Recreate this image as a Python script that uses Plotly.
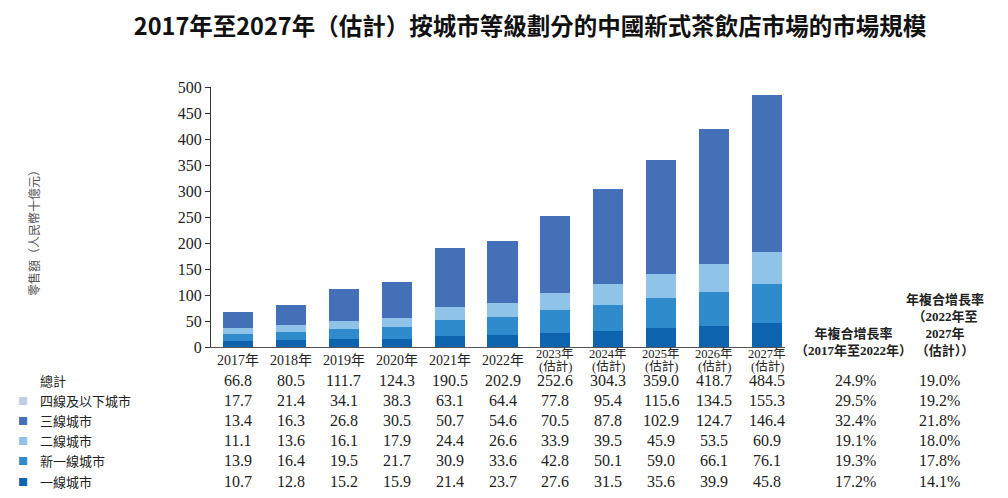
import plotly.graph_objects as go

years = ["2017年", "2018年", "2019年", "2020年", "2021年", "2022年",
         "2023年", "2024年", "2025年", "2026年", "2027年"]
est_flag = [False, False, False, False, False, False, True, True, True, True, True]
est_label = "(估計)"
total = [66.8, 80.5, 111.7, 124.3, 190.5, 202.9, 252.6, 304.3, 359.0, 418.7, 484.5]
tier4 = [17.7, 21.4, 34.1, 38.3, 63.1, 64.4, 77.8, 95.4, 115.6, 134.5, 155.3]
tier3 = [13.4, 16.3, 26.8, 30.5, 50.7, 54.6, 70.5, 87.8, 102.9, 124.7, 146.4]
tier2 = [11.1, 13.6, 16.1, 17.9, 24.4, 26.6, 33.9, 39.5, 45.9, 53.5, 60.9]
newtier1 = [13.9, 16.4, 19.5, 21.7, 30.9, 33.6, 42.8, 50.1, 59.0, 66.1, 76.1]
tier1 = [10.7, 12.8, 15.2, 15.9, 21.4, 23.7, 27.6, 31.5, 35.6, 39.9, 45.8]
cagr_1722 = ["24.9%", "29.5%", "32.4%", "19.1%", "19.3%", "17.2%"]
cagr_2227 = ["19.0%", "19.2%", "21.8%", "18.0%", "17.8%", "14.1%"]
row_names = ["總計", "四線及以下城市", "三線城市", "二線城市", "新一線城市", "一線城市"]

bar_colors = {"一線城市": "#0E63AE", "新一線城市": "#2F8BCB", "二線城市": "#90C3E8",
              "三線城市": "#4470B8", "四線及以下城市": "#4470B8"}
legend_colors = [None, "#C0CDE4", "#4470B8", "#90C3E8", "#2F8BCB", "#0E63AE"]

serif = "Liberation Serif, Times New Roman, serif"
cjk = "Noto Sans CJK TC, Noto Sans CJK SC, sans-serif"
mixed = serif + ", " + cjk
txt = "#222222"

# page body has an 8px margin; figure is sized so it fills the window
OFF = 8
W, H = 1008 - OFF, 498 - OFF
PL, PR, PT, PB = 211, 785, 87, 347   # plot area in page pixels


def px_x(p):
    return (p - PL) / float(PR - PL)


def px_y(p):
    return (PB - p) / float(PB - PT)


xs = list(range(len(years)))
fig = go.Figure()
for name, vals in [("一線城市", tier1), ("新一線城市", newtier1), ("二線城市", tier2),
                   ("三線城市", tier3), ("四線及以下城市", tier4)]:
    fig.add_trace(go.Bar(x=xs, y=vals, name=name, marker_color=bar_colors[name],
                         marker_line_width=0, width=0.57, showlegend=False))

fig.update_layout(
    barmode="stack", width=W, height=H,
    margin=dict(l=PL - OFF, r=W - (PR - OFF), t=PT - OFF, b=H - (PB - OFF), autoexpand=False),
    paper_bgcolor="white", plot_bgcolor="white",
    title=dict(text="<b>2017年至2027年（估計）按城市等級劃分的中國新式茶飲店市場的市場規模</b>",
               x=(530 - OFF) / W, xanchor="center", y=1 - (27 - OFF) / H, yanchor="middle",
               font=dict(family=cjk, size=23.5, color="#111111")),
    xaxis=dict(tickvals=xs, showticklabels=False,
               range=[-0.51, 10.34], showline=True, linecolor="#555555", linewidth=1.2,
               ticks="", showgrid=False, zeroline=False),
    yaxis=dict(range=[0, 500], tickvals=list(range(0, 501, 50)), showline=True,
               linecolor="#333333", linewidth=1.2, ticks="outside", ticklen=5,
               tickcolor="#333333", showgrid=False, zeroline=False,
               tickfont=dict(family=serif, size=16, color=txt)),
)

ann = []
ann.append(dict(text="零售額（人民幣十億元）", xref="paper", yref="paper", x=px_x(33), y=px_y(230),
                xanchor="center", yanchor="middle",
                textangle=-90, showarrow=False, font=dict(family=cjk, size=12, color="#555555")))

# x category labels
for i, (yl, est) in enumerate(zip(years, est_flag)):
    if est:
        ann.append(dict(text=yl, xref="x", yref="paper", x=i, y=px_y(354), xanchor="center",
                        yanchor="middle", showarrow=False, font=dict(family=mixed, size=12.5, color=txt)))
        ann.append(dict(text=est_label, xref="x", yref="paper", x=i, y=px_y(366), xanchor="center",
                        yanchor="middle", showarrow=False, font=dict(family=mixed, size=12.5, color=txt)))
    else:
        ann.append(dict(text=yl, xref="x", yref="paper", x=i, y=px_y(360), xanchor="center",
                        yanchor="middle", showarrow=False, font=dict(family=mixed, size=14, color=txt)))

row_y = [380, 400, 420, 440, 460, 481]
series = [total, tier4, tier3, tier2, newtier1, tier1]

for r, (name, vals, yy) in enumerate(zip(row_names, series, row_y)):
    ann.append(dict(text=name, xref="paper", yref="paper", x=px_x(38), y=px_y(yy),
                    xanchor="left", yanchor="middle", showarrow=False,
                    font=dict(family=cjk, size=13, color=txt)))
    if legend_colors[r]:
        ann.append(dict(text="■", xref="paper", yref="paper", x=px_x(23), y=px_y(yy),
                        xanchor="center", yanchor="middle", showarrow=False,
                        font=dict(family=cjk, size=10, color=legend_colors[r])))
    for i, v in enumerate(vals):
        ann.append(dict(text=f"{v:.1f}", xref="x", yref="paper", x=i, y=px_y(yy),
                        xanchor="center", yanchor="middle", showarrow=False,
                        font=dict(family=serif, size=16, color=txt)))
    ann.append(dict(text=cagr_1722[r], xref="paper", yref="paper", x=px_x(855), y=px_y(yy),
                    xanchor="center", yanchor="middle", showarrow=False,
                    font=dict(family=serif, size=16, color=txt)))
    ann.append(dict(text=cagr_2227[r], xref="paper", yref="paper", x=px_x(940), y=px_y(yy),
                    xanchor="center", yanchor="middle", showarrow=False,
                    font=dict(family=serif, size=16, color=txt)))

hdr_font = dict(family=mixed, size=13, color=txt)
ann.append(dict(text="<b>年複合增長率<br>（2017年至2022年）</b>", xref="paper", yref="paper",
                x=px_x(853), y=px_y(342), xanchor="center", yanchor="middle",
                showarrow=False, font=hdr_font))
ann.append(dict(text="<b>年複合增長率<br>（2022年至<br>2027年<br>（估計））</b>", xref="paper", yref="paper",
                x=px_x(945), y=px_y(325), xanchor="center", yanchor="middle",
                showarrow=False, font=hdr_font))
fig.update_layout(annotations=ann)

fig.write_html("out.html")
